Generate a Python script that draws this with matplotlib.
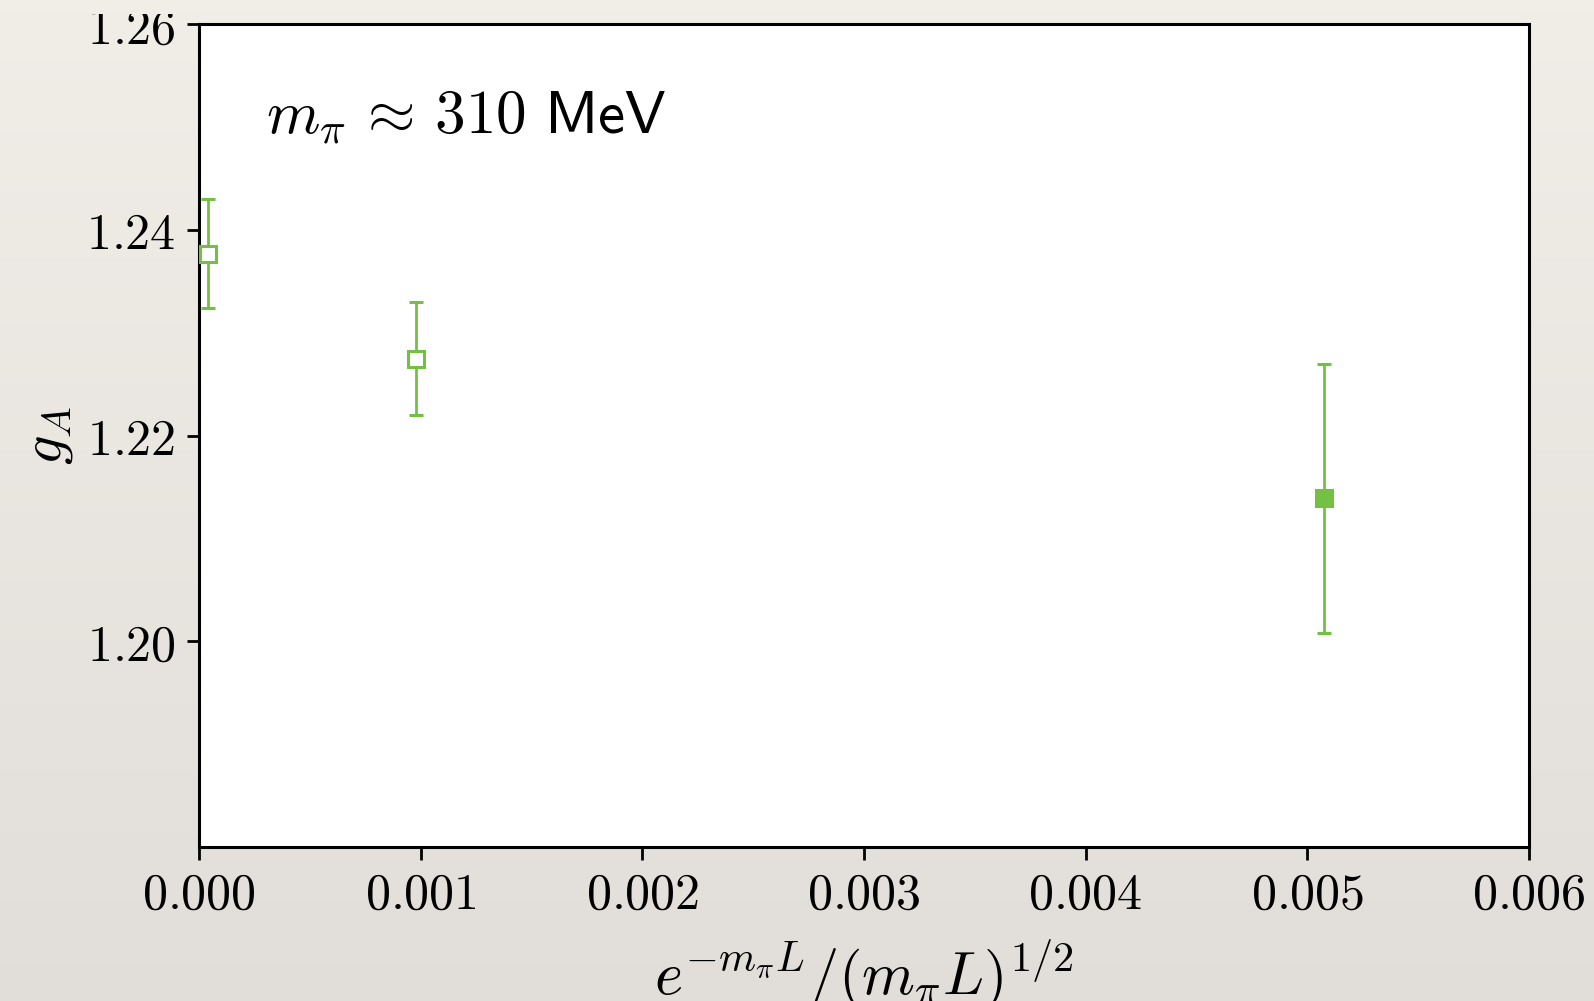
import numpy as np
import matplotlib
matplotlib.use("Agg")
import matplotlib.pyplot as plt
from matplotlib.ticker import FixedLocator, FuncFormatter
from matplotlib.patches import Rectangle

plt.rcParams['mathtext.fontset'] = 'cm'
plt.rcParams['font.family'] = 'DejaVu Serif'

# data
x_open = [0.0000413, 0.000977]
y_open = [1.2377, 1.2275]
e_open = [0.0053, 0.0055]
x_fill = [0.005073]
y_fill = [1.2139]
e_fill = [0.0131]
xticks = [0.000, 0.001, 0.002, 0.003, 0.004, 0.005, 0.006]
yticks = [1.20, 1.22, 1.24, 1.26]
color = '#74c045'

fig = plt.figure(figsize=(15.94, 10.01), dpi=100)
# paper background
bg = fig.add_axes([0, 0, 1, 1], zorder=-10)
grad = np.linspace(0, 1, 256)[:, None]
top = np.array([0.945, 0.933, 0.910])
bot = np.array([0.884, 0.872, 0.853])
img = top[None, None, :] * (1 - grad[:, :, None]) + bot[None, None, :] * grad[:, :, None]
bg.imshow(img, aspect='auto', extent=[0, 1, 0, 1])
bg.axis('off')

ax = fig.add_axes([199/1594, 1 - 847/1001, (1529-199)/1594, (847-24.4)/1001])
ax.set_facecolor('white')

ax.errorbar(x_open, y_open, yerr=e_open, fmt='s', mfc='white', mec=color, ecolor=color,
            ms=12, mew=2.2, elinewidth=2.0, capsize=5, capthick=2.0, zorder=3)
ax.errorbar(x_fill, y_fill, yerr=e_fill, fmt='s', mfc=color, mec=color, ecolor=color,
            ms=12, mew=2.2, elinewidth=2.0, capsize=5, capthick=2.0, zorder=3)

ax.set_xlim(0, 0.006)
ax.set_ylim(1.18, 1.26)
ax.xaxis.set_major_locator(FixedLocator(xticks))
ax.yaxis.set_major_locator(FixedLocator(yticks))
ax.xaxis.set_major_formatter(FuncFormatter(lambda v, p: r'$%.3f$' % v))
ax.yaxis.set_major_formatter(FuncFormatter(lambda v, p: r'$%.2f$' % v))
ax.tick_params(axis='both', direction='out', length=9, width=2, labelsize=36, pad=8,
               top=False, right=False)
for s in ax.spines.values():
    s.set_linewidth(2.2)

ax.set_xlabel(r'$e^{-m_\pi L}/(m_\pi L)^{1/2}$', fontsize=43.5, labelpad=12)
ax.set_ylabel(r'$g_A$', fontsize=42, labelpad=8)
ax.text(0.05, 0.887, r'$m_\pi \,\approx\, 310\ \mathsf{MeV}$', transform=ax.transAxes,
        fontsize=44, ha='left', va='center')

# top edge of the slide crops the uppermost tick label
fig.patches.append(Rectangle((0, 1 - 14/1001), 1, 14/1001, transform=fig.transFigure,
                             facecolor=top, edgecolor='none', zorder=100))

fig.savefig('out.png', dpi=100)
